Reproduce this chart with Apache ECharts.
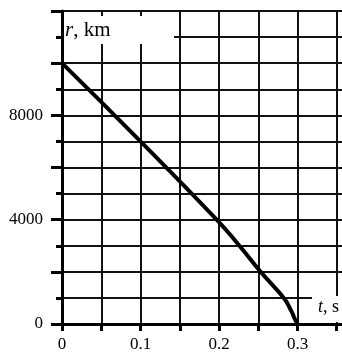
<!DOCTYPE html>
<html>
<head>
<meta charset="utf-8">
<script src="https://cdn.jsdelivr.net/npm/echarts@6/dist/echarts.min.js"></script>
<style>
  html, body { margin: 0; padding: 0; background: #fff; }
  #chart { width: 342px; height: 353px; }
</style>
</head>
<body>
<div id="chart"></div>
<script>
// Radius r (km) versus time t (s)
const timeS    = [0, 0.1, 0.197, 0.226, 0.253, 0.268, 0.2825, 0.287, 0.291, 0.294, 0.296, 0.2985, 0.2995];
const radiusKm = [10000, 7000, 4000, 3000, 2000, 1500, 1000, 800, 560, 380, 230, 80, 0];

// Labelled ticks
const xTickLabels = [0, 0.1, 0.2, 0.3];
const yTickLabels = [0, 4000, 8000];

const FONT = 'Liberation Serif';
const INK = '#000';

const chart = echarts.init(document.getElementById('chart'), null, { renderer: 'canvas' });

const gridLine = { show: true, lineStyle: { color: '#111', width: 2 } };

chart.setOption({
  animation: false,
  backgroundColor: '#fff',
  // the plotting area runs past the right edge of the page
  grid: { left: 62, top: 11, width: 314, height: 313, containLabel: false, outerBoundsMode: 'none' },
  xAxis: {
    type: 'value',
    min: 0,
    max: 0.4,
    interval: 0.05,
    axisLine: { show: true, onZero: false, lineStyle: { color: INK, width: 3 } },
    axisTick: { show: true, length: 7, lineStyle: { color: INK, width: 3 } },
    splitLine: gridLine,
    axisLabel: {
      margin: 12,
      color: INK,
      fontFamily: FONT,
      fontSize: 17,
      formatter: function (v) {
        const hit = xTickLabels.find(t => Math.abs(t - v) < 1e-9);
        return hit === undefined ? '' : String(hit);
      }
    }
  },
  yAxis: {
    type: 'value',
    min: 0,
    max: 12000,
    interval: 2000,
    axisLine: { show: true, onZero: false, lineStyle: { color: INK, width: 3 } },
    axisTick: { show: true, length: 11, lineStyle: { color: INK, width: 3 } },
    minorTick: { show: true, splitNumber: 2, length: 6, lineStyle: { color: INK, width: 3 } },
    splitLine: gridLine,
    minorSplitLine: gridLine,
    axisLabel: {
      margin: 19,
      color: INK,
      fontFamily: FONT,
      fontSize: 17,
      formatter: function (v) {
        return yTickLabels.indexOf(v) >= 0 ? String(v) : '';
      }
    }
  },
  series: [{
    type: 'line',
    data: timeS.map((t, i) => [t, radiusKm[i]]),
    smooth: 0.5,
    showSymbol: false,
    lineStyle: { color: INK, width: 4 },
    z: 5
  }],
  graphic: [
    {
      type: 'rect', z: 100,
      shape: { x: 64, y: 16, width: 110, height: 28 },
      style: { fill: '#fff' }
    },
    {
      type: 'text', z: 101,
      x: 65, y: 30,
      style: {
        text: '{i|r}, km',
        fontFamily: FONT, fontSize: 21, fill: INK,
        verticalAlign: 'middle',
        rich: { i: { fontStyle: 'italic', fontFamily: FONT, fontSize: 21 } }
      }
    },
    {
      type: 'rect', z: 100,
      shape: { x: 312, y: 296, width: 40, height: 26 },
      style: { fill: '#fff' }
    },
    {
      type: 'text', z: 101,
      x: 318, y: 307,
      style: {
        text: '{i|t}, s',
        fontFamily: FONT, fontSize: 18, fill: INK,
        verticalAlign: 'middle',
        rich: { i: { fontStyle: 'italic', fontFamily: FONT, fontSize: 18 } }
      }
    }
  ]
});
</script>
</body>
</html>
